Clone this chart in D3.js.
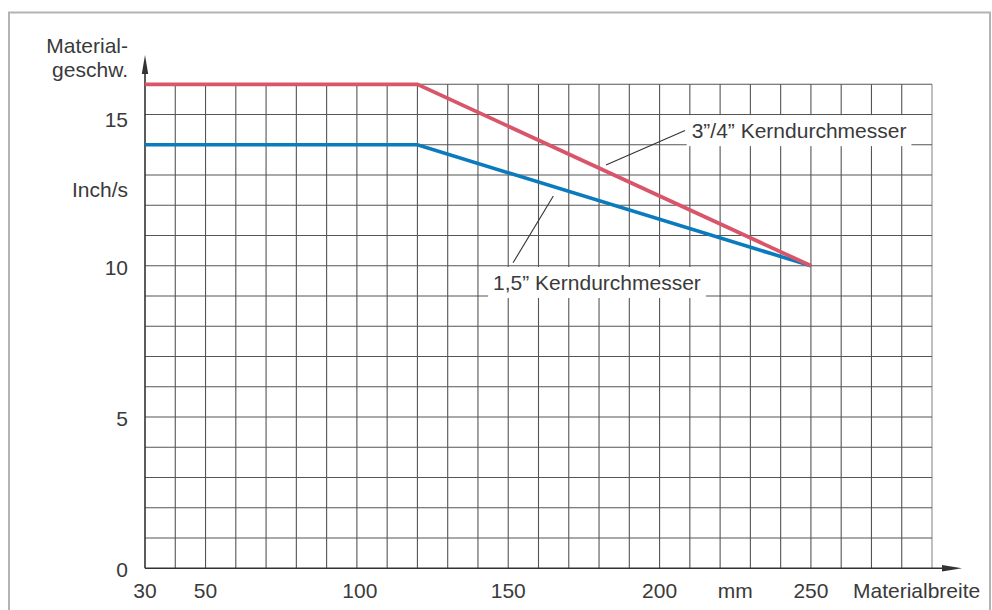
<!DOCTYPE html>
<html lang="de">
  <head>
    <meta charset="utf-8">
    <title>Materialgeschwindigkeit</title>
    <script src="https://d3js.org/d3.v7.min.js"></script>
    <style>
      body { margin: 0; background: #fff; }
      text { font-family: "Liberation Sans", Arial, sans-serif; font-size: 21px; fill: #3a3a3a; }
    </style>
  </head>
  <body>
    <script>

      // Materialbreite (mm) / Geschwindigkeit (Inch/s)
      var breite = [30, 120, 250]
      var kern34 = [16, 16, 10]
      var kern15 = [14, 14, 10]

      var xTicks = [30, 50, 100, 150, 200, 250]
      var yTicks = [0, 5, 10, 15]

      var xMin = 30, xMax = 290, yMax = 16

      var width = 992, height = 610

      var svg = d3.select("body").append("svg")
                  .attr("width", width)
                  .attr("height", height);

      var x = d3.scaleLinear().domain([xMin, xMax]).range([145, 932])
      var y = d3.scaleLinear().domain([0, yMax]).range([568.3, 84.3])

      // outer frame
      svg.append("rect")
         .attr("x", 9).attr("y", 12.5)
         .attr("width", 981).attr("height", 620)
         .attr("fill", "none")
         .attr("stroke", "#b4b4b4")
         .attr("stroke-width", 2)

      // grid
      svg.append("g")
         .selectAll("line")
         .data(d3.range(xMin + 10, xMax + 1, 10))
         .enter().append("line")
         .attr("x1", function(d) { return x(d) }).attr("x2", function(d) { return x(d) })
         .attr("y1", y(0)).attr("y2", y(yMax))
         .attr("stroke", function(d) { return d == xMax ? "#8a8a8a" : "#555" })
         .attr("stroke-width", 1.1)

      svg.append("g")
         .selectAll("line")
         .data(d3.range(1, yMax + 1))
         .enter().append("line")
         .attr("x1", x(xMin)).attr("x2", x(xMax))
         .attr("y1", function(d) { return y(d) }).attr("y2", function(d) { return y(d) })
         .attr("stroke", "#555")
         .attr("stroke-width", 1.1)

      // axes with arrows
      svg.append("line")
         .attr("x1", x(xMin)).attr("x2", 945)
         .attr("y1", y(0)).attr("y2", y(0))
         .attr("stroke", "#333").attr("stroke-width", 1.6)
      svg.append("path")
         .attr("d", "M942," + (y(0) - 3.2) + "L962," + y(0) + "L942," + (y(0) + 3.2) + "Z")
         .attr("fill", "#333")

      svg.append("line")
         .attr("x1", x(xMin)).attr("x2", x(xMin))
         .attr("y1", y(0)).attr("y2", 70)
         .attr("stroke", "#333").attr("stroke-width", 1.6)
      svg.append("path")
         .attr("d", "M" + (x(xMin) - 3.2) + ",74L" + x(xMin) + ",55L" + (x(xMin) + 3.2) + ",74Z")
         .attr("fill", "#333")

      // tick labels
      svg.append("g")
         .selectAll("text")
         .data(xTicks)
         .enter().append("text")
         .attr("x", function(d) { return x(d) + (d == 100 ? 3 : 0) })
         .attr("y", 598)
         .attr("text-anchor", "middle")
         .text(function(d) { return d })

      svg.append("g")
         .selectAll("text")
         .data(yTicks)
         .enter().append("text")
         .attr("x", 128)
         .attr("y", function(d) { return y(d) + (d == 15 ? 12.5 : 9) })
         .attr("text-anchor", "end")
         .text(function(d) { return d })

      // axis titles
      svg.append("text").attr("x", 128).attr("y", 53.3).attr("text-anchor", "end").text("Material-")
      svg.append("text").attr("x", 128).attr("y", 76.7).attr("text-anchor", "end").text("geschw.")
      svg.append("text").attr("x", 128).attr("y", 197).attr("text-anchor", "end").text("Inch/s")
      svg.append("text").attr("x", x(225)).attr("y", 598).attr("text-anchor", "middle").text("mm")
      svg.append("text").attr("x", 853).attr("y", 598).text("Materialbreite")

      // curves
      var line = d3.line()
                   .x(function(d) { return x(d[0]) })
                   .y(function(d) { return y(d[1]) })

      svg.append("path")
         .datum(d3.zip(breite, kern15))
         .attr("d", line)
         .attr("fill", "none")
         .attr("stroke", "#0a7bbd")
         .attr("stroke-width", 3.6)

      svg.append("path")
         .datum(d3.zip(breite, kern34))
         .attr("d", line)
         .attr("fill", "none")
         .attr("stroke", "#d9566a")
         .attr("stroke-width", 3.8)

      // annotations: text position and leader line in data units
      var labels = [
        { text: "3\u201D/4\u201D Kerndurchmesser", tx: 210.6, ty: 14.22, l: [[208.4, 14.47], [182.3, 13.33]] },
        { text: "1,5\u201D Kerndurchmesser",       tx: 145.0, ty: 9.2,   l: [[151.6, 10.1], [164.9, 12.31]] }
      ]

      labels.forEach(function(a) {
        var g = svg.append("g")
        var bg = g.append("rect").attr("fill", "#fff")
        var t = g.append("text")
                 .attr("x", x(a.tx)).attr("y", y(a.ty))
                 .text(a.text)
        var b = t.node().getBBox()
        bg.attr("x", b.x - 5).attr("y", b.y - 4)
          .attr("width", b.width + 10).attr("height", b.height + 8)
        svg.append("line")
           .attr("x1", x(a.l[0][0])).attr("y1", y(a.l[0][1]))
           .attr("x2", x(a.l[1][0])).attr("y2", y(a.l[1][1]))
           .attr("stroke", "#333").attr("stroke-width", 1.1)
      })

    </script>
  </body>
</html>
